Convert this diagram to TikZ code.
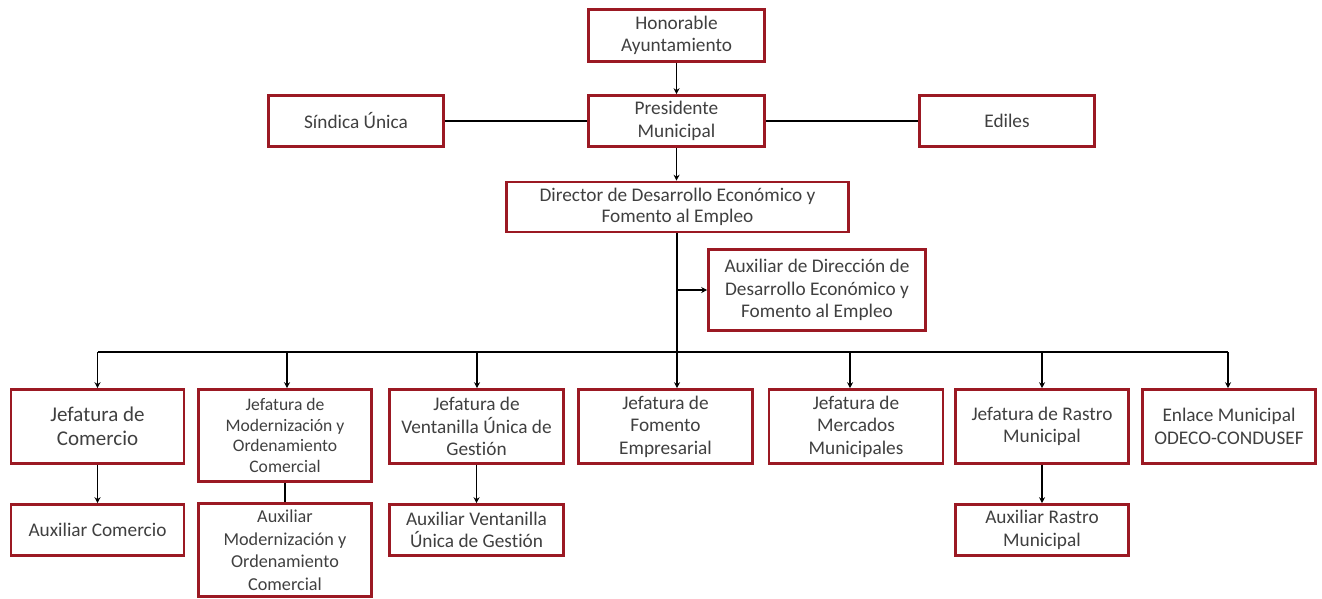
\documentclass[tikz,border=0pt]{standalone}
\usepackage{fontspec}
\setmainfont{Carlito}[Ligatures=NoCommon]
\usetikzlibrary{arrows.meta,calc}
\definecolor{boxred}{RGB}{155,25,35}
\definecolor{txt}{RGB}{64,64,64}
\begin{document}
\begin{tikzpicture}[x=1pt,y=1pt,
  box/.style={draw=boxred,line width=2.6pt,fill=white,align=center,text=txt,
    font=\fontsize{19.3}{22.5}\selectfont,inner sep=1pt},
  bigtext/.style={font=\fontsize{21}{23.5}\selectfont},
  smalltext/.style={font=\fontsize{17.6}{20.5}\selectfont},
  midtext/.style={font=\fontsize{18.2}{22.5}\selectfont},
  dirtext/.style={font=\fontsize{19.3}{21}\selectfont},
  arr/.style={draw=black,line width=1.8pt,-{Stealth[length=6pt,width=6pt]}},
  ln/.style={draw=black,line width=1.8pt}]
\useasboundingbox (0,0) rectangle (1322,-598);
\node[box,minimum width=176,minimum height=52] (hon) at (676.5,-35.5) {Honorable\\Ayuntamiento};
\node[box,minimum width=176,minimum height=51] (pres) at (676.5,-121) {Presidente\\Municipal};
\node[box,minimum width=175,minimum height=51] (sind) at (356,-121) {Síndica Única};
\node[box,minimum width=175,minimum height=51] (edil) at (1007,-121) {Ediles};
\node[box,dirtext,minimum width=342,minimum height=50] (dir) at (677.5,-207) {Director de Desarrollo Económico y\\Fomento al Empleo};
\node[box,minimum width=217,minimum height=81] (auxd) at (817,-290) {Auxiliar de Dirección de\\Desarrollo Económico y\\Fomento al Empleo};
\node[box,bigtext,minimum width=173,minimum height=74] (j1) at (97.5,-426.5) {Jefatura de\\Comercio};
\node[box,smalltext,minimum width=173,minimum height=92] (j2) at (285,-435.5) {Jefatura de\\Modernización y\\Ordenamiento\\Comercial};
\node[box,minimum width=174,minimum height=74] (j3) at (476.5,-426.5) {Jefatura de\\Ventanilla Única de\\Gestión};
\node[box,minimum width=174,minimum height=74] (j4) at (665.5,-426.5) {Jefatura de\\Fomento\\Empresarial};
\node[box,minimum width=174,minimum height=74] (j5) at (856,-426.5) {Jefatura de\\Mercados\\Municipales};
\node[box,minimum width=173,minimum height=74] (j6) at (1042,-426.5) {Jefatura de Rastro\\Municipal};
\node[box,minimum width=173,minimum height=74] (j7) at (1229,-426.5) {Enlace Municipal\\ODECO-CONDUSEF};
\node[box,minimum width=173,minimum height=51] (a1) at (97.5,-530) {Auxiliar Comercio};
\node[box,midtext,minimum width=173,minimum height=93] (a2) at (285,-550) {Auxiliar\\Modernización y\\Ordenamiento\\Comercial};
\node[box,minimum width=174,minimum height=51] (a3) at (476.5,-530) {Auxiliar Ventanilla\\Única de Gestión};
\node[box,minimum width=173,minimum height=51] (a6) at (1042,-530) {Auxiliar Rastro\\Municipal};
% bus coordinates
\coordinate (trunk) at (677,-352);
\coordinate (tauxd) at (677,-290);
\coordinate (bus1) at (97.5,-352);
\coordinate (bus2) at (287,-352);
\coordinate (bus3) at (477,-352);
\coordinate (bus5) at (850,-352);
\coordinate (bus6) at (1042,-352);
\coordinate (bus7) at (1228,-352);
% connectors
\draw[arr] (hon.south) -- (pres.north);
\draw[ln] (sind.east) -- (pres.west);
\draw[ln] (pres.east) -- (edil.west);
\draw[arr] (pres.south) -- (pres.south |- dir.north);
\draw[ln] (dir.south -| trunk) -- (trunk);
\draw[arr] (tauxd) -- (auxd.west);
\draw[ln] (bus1) -- (bus7);
\draw[arr] (bus1) -- (j1.north);
\draw[arr] (bus2) -- (bus2 |- j2.north);
\draw[arr] (bus3) -- (bus3 |- j3.north);
\draw[arr] (trunk) -- (trunk |- j4.north);
\draw[arr] (bus5) -- (bus5 |- j5.north);
\draw[arr] (bus6) -- (j6.north);
\draw[arr] (bus7) -- (bus7 |- j7.north);
\draw[arr] (j1.south) -- (a1.north);
\draw[ln] (j2.south) -- (a2.north);
\draw[arr] (j3.south) -- (a3.north);
\draw[arr] (j6.south) -- (a6.north);
\end{tikzpicture}
\end{document}
